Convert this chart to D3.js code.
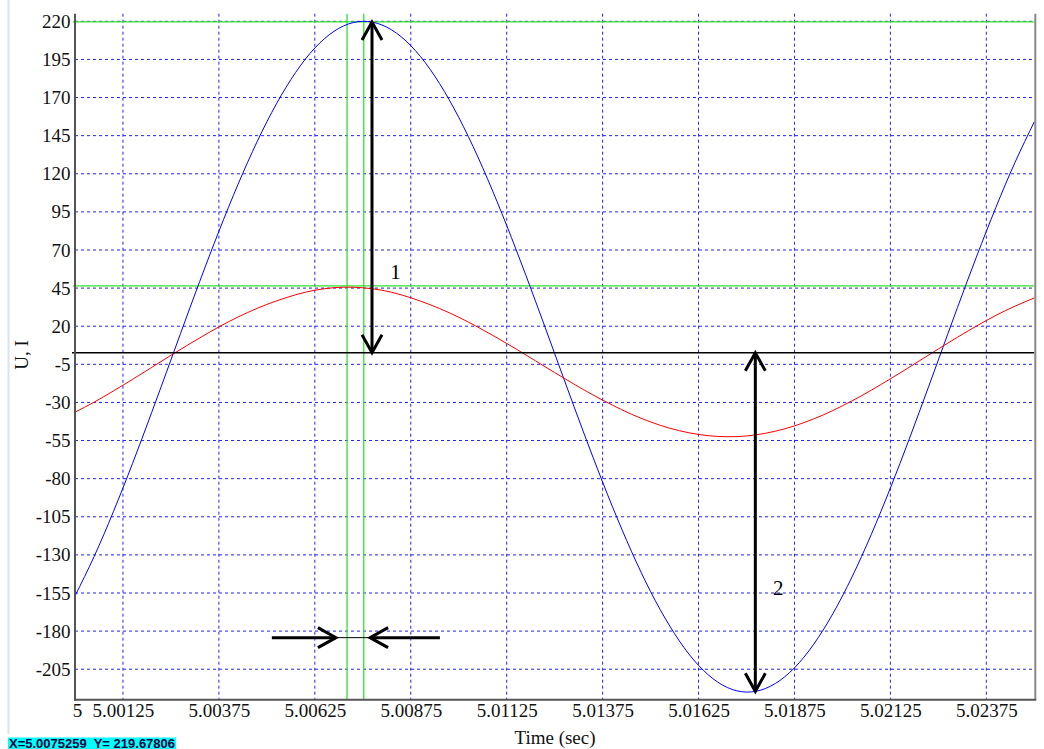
<!DOCTYPE html>
<html>
<head>
<meta charset="utf-8">
<script src="https://cdn.jsdelivr.net/npm/d3@7"></script>
<style>
  body { margin: 0; background: #fff; }
  svg { display: block; }
  text { font-family: "Liberation Serif", "Times New Roman", serif; }
</style>
</head>
<body>
<svg id="chart" width="1044" height="749"></svg>
<script>
// time samples, every 0.0005 s
const times = d3.range(51).map(i => +(5 + i * 0.0005).toFixed(4));

// voltage (blue)
const voltage = [
  -157.0, -131.0, -101.7, -70.0, -36.5, -2.1, 32.4, 66.0, 98.0, 127.6,
  154.1, 176.7, 195.1, 208.6, 217.0, 220.0, 217.6, 209.9, 197.0, 179.2,
  157.0, 131.0, 101.7, 70.0, 36.5, 2.1, -32.4, -66.0, -98.0, -127.6,
  -154.1, -176.7, -195.1, -208.6, -217.0, -220.0, -217.6, -209.9, -197.0, -179.2,
  -157.0, -131.0, -101.7, -70.0, -36.5, -2.1, 32.4, 66.0, 98.0, 127.6,
  154.1
];

// current (red)
const current = [
  -36.4, -29.8, -22.5, -14.9, -7.0, 0.9, 8.6, 16.0, 22.9, 29.0,
  34.3, 38.7, 42.3, 44.6, 45.6, 45.2, 43.6, 40.6, 36.5, 31.6,
  25.9, 19.4, 12.4, 5.0, -2.7, -10.4, -17.9, -25.1, -31.7, -37.7,
  -42.8, -46.9, -49.9, -51.8, -52.5, -52.0, -50.2, -47.3, -43.2, -38.2,
  -32.2, -25.6, -18.3, -10.7, -2.8, 5.1, 12.8, 20.2, 27.1, 33.2,
  38.5
];

const xTicks = [5, 5.00125, 5.00375, 5.00625, 5.00875, 5.01125, 5.01375, 5.01625, 5.01875, 5.02125, 5.02375];
const yTicks = [220, 195, 170, 145, 120, 95, 70, 45, 20, -5, -30, -55, -80, -105, -130, -155, -180, -205];

// cursors and markers
const cursorTimes = [5.00709, 5.0075259];
const cursorLevels = [219.67806, 46.5];
const refLevel = 2.6;
const vArrows = [
  { t: 5.00774, from: refLevel, to: 219.5, label: "1", lt: 5.00835, lv: 51 },
  { t: 5.01773, from: refLevel, to: -219.5, label: "2", lt: 5.01833, lv: -156 }
];
const hArrow = { level: -184.3, leftTail: 5.00513, leftTip: 5.00680, rightTip: 5.00769, rightTail: 5.00951 };

const svg = d3.select("#chart");

const plotLeft = 75, plotRight = 1034.3, plotTop = 13.7, plotBottom = 699.7;

const x = d3.scaleLinear().domain([5, 5.025]).range([plotLeft, plotRight]);
const y = d3.scaleLinear().domain([-225, 225]).range([plotBottom, plotTop]);

// faint bar on the far left
svg.append("line")
  .attr("x1", 8.5).attr("x2", 8.5).attr("y1", 0).attr("y2", 734)
  .attr("stroke", "#dae4ef").attr("stroke-width", 2);

// grid
const grid = svg.append("g");
grid.selectAll(".vg").data(xTicks.slice(1)).enter().append("line")
  .attr("x1", d => x(d)).attr("x2", d => x(d))
  .attr("y1", plotTop).attr("y2", plotBottom)
  .attr("stroke", "#2020ff").attr("stroke-width", 1).attr("stroke-dasharray", "3,3");
grid.selectAll(".hg").data(yTicks).enter().append("line")
  .attr("x1", plotLeft).attr("x2", plotRight)
  .attr("y1", d => y(d)).attr("y2", d => y(d))
  .attr("stroke", "#2020ff").attr("stroke-width", 1).attr("stroke-dasharray", "3,3");

// green cursors
svg.selectAll(".cv").data(cursorTimes).enter().append("line")
  .attr("x1", d => x(d)).attr("x2", d => x(d))
  .attr("y1", plotTop).attr("y2", plotBottom)
  .attr("stroke", "#33e033").attr("stroke-width", 1.3);
svg.selectAll(".ch").data(cursorLevels).enter().append("line")
  .attr("x1", plotLeft - 2).attr("x2", plotRight)
  .attr("y1", d => y(d)).attr("y2", d => y(d))
  .attr("stroke", "#33e033").attr("stroke-width", 1.3);

// curves
const line = d3.line().curve(d3.curveNatural);
svg.append("path")
  .attr("d", line(times.map((t, i) => [x(t), y(voltage[i])])))
  .attr("fill", "none").attr("stroke", "#0000ff").attr("stroke-width", 1);
svg.append("path")
  .attr("d", line(times.map((t, i) => [x(t), y(current[i])])))
  .attr("fill", "none").attr("stroke", "#ff0000").attr("stroke-width", 1);

// reference line
svg.append("line")
  .attr("x1", plotLeft - 3).attr("x2", plotRight)
  .attr("y1", y(refLevel)).attr("y2", y(refLevel))
  .attr("stroke", "#000").attr("stroke-width", 1.6);

// frame
svg.append("line").attr("x1", plotRight + 1).attr("x2", plotRight + 1).attr("y1", plotTop).attr("y2", plotBottom)
  .attr("stroke", "#888").attr("stroke-width", 2);
svg.append("line").attr("x1", plotLeft).attr("x2", plotLeft).attr("y1", plotTop).attr("y2", plotBottom + 1)
  .attr("stroke", "#555").attr("stroke-width", 2);
svg.append("line").attr("x1", plotLeft - 1).attr("x2", plotRight + 2).attr("y1", plotBottom).attr("y2", plotBottom)
  .attr("stroke", "#555").attr("stroke-width", 2);

// arrows
function head(g, tx, ty, dx, dy) {
  // open V head at (tx,ty), pointing in direction (dx,dy)
  const len = 18, half = 10;
  const bx = tx - dx * len, by = ty - dy * len;
  g.append("path")
    .attr("d", `M${bx - dy * half},${by + dx * half}L${tx},${ty}L${bx + dy * half},${by - dx * half}`)
    .attr("fill", "none").attr("stroke", "#000").attr("stroke-width", 3)
    .attr("stroke-linejoin", "miter");
}
const arrows = svg.append("g");
vArrows.forEach(a => {
  const ax = x(a.t), y1 = y(a.from), y2 = y(a.to);
  arrows.append("line").attr("x1", ax).attr("x2", ax).attr("y1", y1).attr("y2", y2)
    .attr("stroke", "#000").attr("stroke-width", 3);
  const dir = y2 > y1 ? 1 : -1;
  head(arrows, ax, y2, 0, dir);
  head(arrows, ax, y1, 0, -dir);
  arrows.append("text").attr("x", x(a.lt)).attr("y", y(a.lv))
    .attr("font-size", 21).attr("text-anchor", "middle").text(a.label);
});
const hy = y(hArrow.level);
arrows.append("line").attr("x1", x(hArrow.leftTail)).attr("x2", x(hArrow.leftTip))
  .attr("y1", hy).attr("y2", hy).attr("stroke", "#000").attr("stroke-width", 3);
head(arrows, x(hArrow.leftTip), hy, 1, 0);
arrows.append("line").attr("x1", x(hArrow.leftTip)).attr("x2", x(hArrow.rightTip))
  .attr("y1", hy).attr("y2", hy).attr("stroke", "#000").attr("stroke-width", 1);
arrows.append("line").attr("x1", x(hArrow.rightTail)).attr("x2", x(hArrow.rightTip))
  .attr("y1", hy).attr("y2", hy).attr("stroke", "#000").attr("stroke-width", 3);
head(arrows, x(hArrow.rightTip), hy, -1, 0);

// axes
const xAxis = svg.append("g").attr("transform", `translate(0,${plotBottom})`)
  .call(d3.axisBottom(x).tickValues(xTicks).tickSize(0).tickPadding(4)
    .tickFormat(d => d === 5 ? "5" : d.toFixed(5)));
const yAxis = svg.append("g").attr("transform", `translate(${plotLeft},0)`)
  .call(d3.axisLeft(y).tickValues(yTicks).tickSize(0).tickPadding(4.5)
    .tickFormat(d => String(d)));
[xAxis, yAxis].forEach(g => {
  g.select(".domain").remove();
  g.selectAll("text").attr("font-family", '"Liberation Serif", serif')
    .attr("font-size", 19).attr("fill", "#111");
});
xAxis.select(".tick text").attr("dx", "2");

svg.append("text").attr("x", 555).attr("y", 744).attr("text-anchor", "middle")
  .attr("font-size", 19).attr("fill", "#111").text("Time (sec)");
svg.append("text").attr("transform", "translate(28,355) rotate(-90)")
  .attr("text-anchor", "middle").attr("font-size", 19).attr("fill", "#111").text("U, I");

// status readout
svg.append("rect").attr("x", 8).attr("y", 737.5).attr("width", 168).attr("height", 12)
  .attr("fill", "#00ffff");
svg.append("text").attr("x", 9).attr("y", 747.5)
  .style("font-family", '"Liberation Sans", Arial, sans-serif').attr("font-size", 13)
  .attr("font-weight", "bold")
  .attr("fill", "#00003a").style("white-space", "pre")
  .text(`X=${cursorTimes[1]}  Y= ${cursorLevels[0]}`);
</script>
</body>
</html>
